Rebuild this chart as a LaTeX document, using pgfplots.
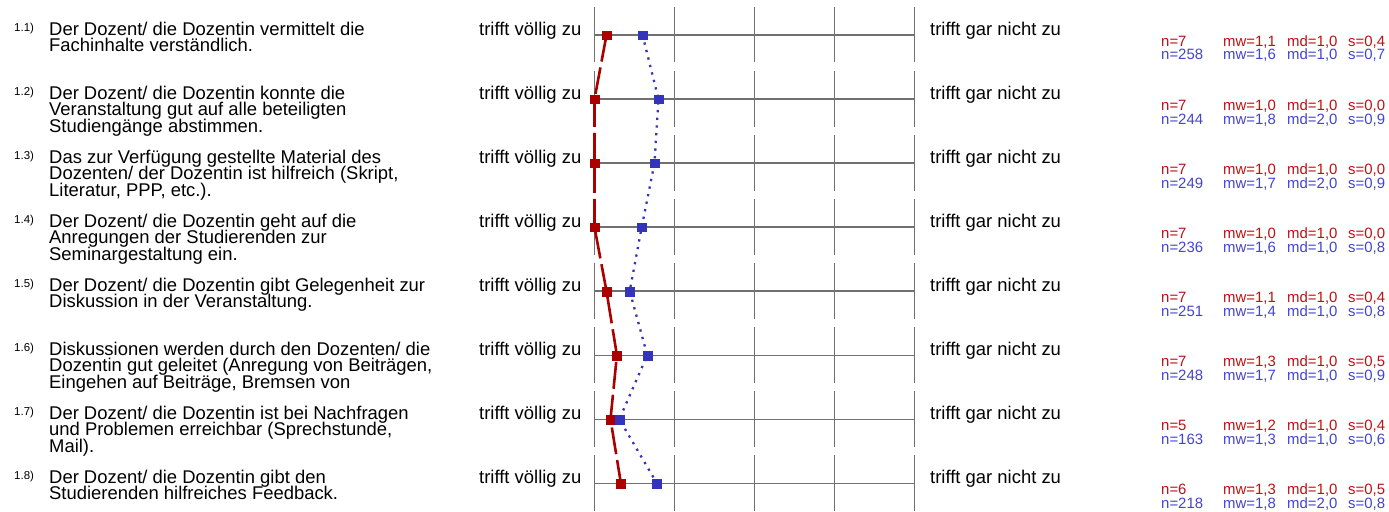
\documentclass[border=0pt]{standalone}
\usepackage{pgfplots}
\pgfplotsset{compat=1.18}
\usepackage{pgfplotstable}
\usepackage{fontspec}
\setmainfont{Liberation Sans}

\definecolor{dred}{RGB}{170,0,0}
\definecolor{dblue}{RGB}{51,51,187}
\definecolor{tred}{RGB}{187,17,17}
\definecolor{tblue}{RGB}{68,68,204}
\definecolor{gridc}{RGB}{112,112,112}

% mean values per item, as placed on the 1..5 scale: this course / all courses
\pgfplotstableread{
row mw
1 1.15
2 1.0
3 1.0
4 1.0
5 1.15
6 1.28
7 1.2
8 1.33
}\kurs
\pgfplotstableread{
row mw
1 1.6
2 1.8
3 1.75
4 1.59
5 1.44
6 1.66
7 1.31
8 1.78
}\alle

% y position (px) of a row
\newcommand{\rowy}[1]{(35+(#1-1)*64.04)}
\newcommand{\mainfont}{\fontsize{18.5}{16}\selectfont}
\newcommand{\statfont}{\fontsize{15}{15}\selectfont}
\newcommand{\basey}{0.3}

% label: row, number
\newcommand{\labnum}[2]{%
  \node[anchor=base west, inner sep=0, font=\fontsize{11.5}{12}\selectfont] at (axis cs:14,{\rowy{#1}+\basey-3.8}) {#2};
  \node[anchor=base east, inner sep=0, font=\mainfont] at (axis cs:581.5,{\rowy{#1}+\basey}) {trifft völlig zu};
  \node[anchor=base west, inner sep=0, font=\mainfont] at (axis cs:930,{\rowy{#1}+\basey}) {trifft gar nicht zu};
}
% one text line: row, line index, text
\newcommand{\labline}[3]{%
  \node[anchor=base west, inner sep=0, font=\mainfont] at (axis cs:49,{\rowy{#1}+\basey+16.4*#2}) {#3};
}
% stats: row, offset, colour, n, mw, md, s
\newcommand{\stat}[7]{%
  \node[anchor=base west, inner sep=0, font=\statfont, text=#3] at (axis cs:1161,{\rowy{#1}+#2}) {n=#4};
  \node[anchor=base west, inner sep=0, font=\statfont, text=#3] at (axis cs:1223,{\rowy{#1}+#2}) {mw=#5};
  \node[anchor=base west, inner sep=0, font=\statfont, text=#3] at (axis cs:1287,{\rowy{#1}+#2}) {md=#6};
  \node[anchor=base west, inner sep=0, font=\statfont, text=#3] at (axis cs:1348,{\rowy{#1}+#2}) {s=#7};
}

\begin{document}
\begin{tikzpicture}
\begin{axis}[
    hide axis,
    scale only axis,
    width=1389bp, height=512bp,
    xmin=0, xmax=1389,
    ymin=0, ymax=512,
    y dir=reverse,
    clip=false,
]
\path (axis cs:0,0) rectangle (axis cs:1389,512);
% profile grid
\pgfplotsinvokeforeach{1,2,3,4,5,6,7,8}{
  \draw[gridc, line width=1.4bp] (axis cs:594.5,{\rowy{#1}}) -- (axis cs:914.5,{\rowy{#1}});
  \draw[gridc, line width=1.4bp] foreach \v in {0,1,2,3,4} {(axis cs:{594.5+80*\v},{\rowy{#1}-28}) -- (axis cs:{594.5+80*\v},{\rowy{#1}+27.5})};
}

\addplot[dred, line width=2.6bp, dash pattern=on 27bp off 6bp,
    mark=square*, mark size=4.4bp, mark options={solid, fill=dred, draw=dred, line width=0.1bp}]
    table[x expr=594.5+(\thisrow{mw}-1)*80, y expr=35+(\thisrow{row}-1)*64.04] {\kurs};
\addplot[dblue, line width=2.3bp, dash pattern=on 2.3bp off 5.4bp,
    mark=square*, mark size=4.4bp, mark options={solid, fill=dblue, draw=dblue, line width=0.1bp}]
    table[x expr=594.5+(\thisrow{mw}-1)*80, y expr=35+(\thisrow{row}-1)*64.04] {\alle};

% item texts
\labnum{1}{1.1)}
\labline{1}{0}{Der Dozent/ die Dozentin vermittelt die}
\labline{1}{1}{Fachinhalte verständlich.}
\labnum{2}{1.2)}
\labline{2}{0}{Der Dozent/ die Dozentin konnte die}
\labline{2}{1}{Veranstaltung gut auf alle beteiligten}
\labline{2}{2}{Studiengänge abstimmen.}
\labnum{3}{1.3)}
\labline{3}{0}{Das zur Verfügung gestellte Material des}
\labline{3}{1}{Dozenten/ der Dozentin ist hilfreich (Skript,}
\labline{3}{2}{Literatur, PPP, etc.).}
\labnum{4}{1.4)}
\labline{4}{0}{Der Dozent/ die Dozentin geht auf die}
\labline{4}{1}{Anregungen der Studierenden zur}
\labline{4}{2}{Seminargestaltung ein.}
\labnum{5}{1.5)}
\labline{5}{0}{Der Dozent/ die Dozentin gibt Gelegenheit zur}
\labline{5}{1}{Diskussion in der Veranstaltung.}
\labnum{6}{1.6)}
\labline{6}{0}{Diskussionen werden durch den Dozenten/ die}
\labline{6}{1}{Dozentin gut geleitet (Anregung von Beiträgen,}
\labline{6}{2}{Eingehen auf Beiträge, Bremsen von}
\labnum{7}{1.7)}
\labline{7}{0}{Der Dozent/ die Dozentin ist bei Nachfragen}
\labline{7}{1}{und Problemen erreichbar (Sprechstunde,}
\labline{7}{2}{Mail).}
\labnum{8}{1.8)}
\labline{8}{0}{Der Dozent/ die Dozentin gibt den}
\labline{8}{1}{Studierenden hilfreiches Feedback.}

% statistics
\stat{1}{11.5}{tred}{7}{1,1}{1,0}{0,4}
\stat{1}{25}{tblue}{258}{1,6}{1,0}{0,7}
\stat{2}{11.5}{tred}{7}{1,0}{1,0}{0,0}
\stat{2}{25}{tblue}{244}{1,8}{2,0}{0,9}
\stat{3}{11.5}{tred}{7}{1,0}{1,0}{0,0}
\stat{3}{25}{tblue}{249}{1,7}{2,0}{0,9}
\stat{4}{11.5}{tred}{7}{1,0}{1,0}{0,0}
\stat{4}{25}{tblue}{236}{1,6}{1,0}{0,8}
\stat{5}{11.5}{tred}{7}{1,1}{1,0}{0,4}
\stat{5}{25}{tblue}{251}{1,4}{1,0}{0,8}
\stat{6}{11.5}{tred}{7}{1,3}{1,0}{0,5}
\stat{6}{25}{tblue}{248}{1,7}{1,0}{0,9}
\stat{7}{11.5}{tred}{5}{1,2}{1,0}{0,4}
\stat{7}{25}{tblue}{163}{1,3}{1,0}{0,6}
\stat{8}{11.5}{tred}{6}{1,3}{1,0}{0,5}
\stat{8}{25}{tblue}{218}{1,8}{2,0}{0,8}
\end{axis}
\end{tikzpicture}
\end{document}
